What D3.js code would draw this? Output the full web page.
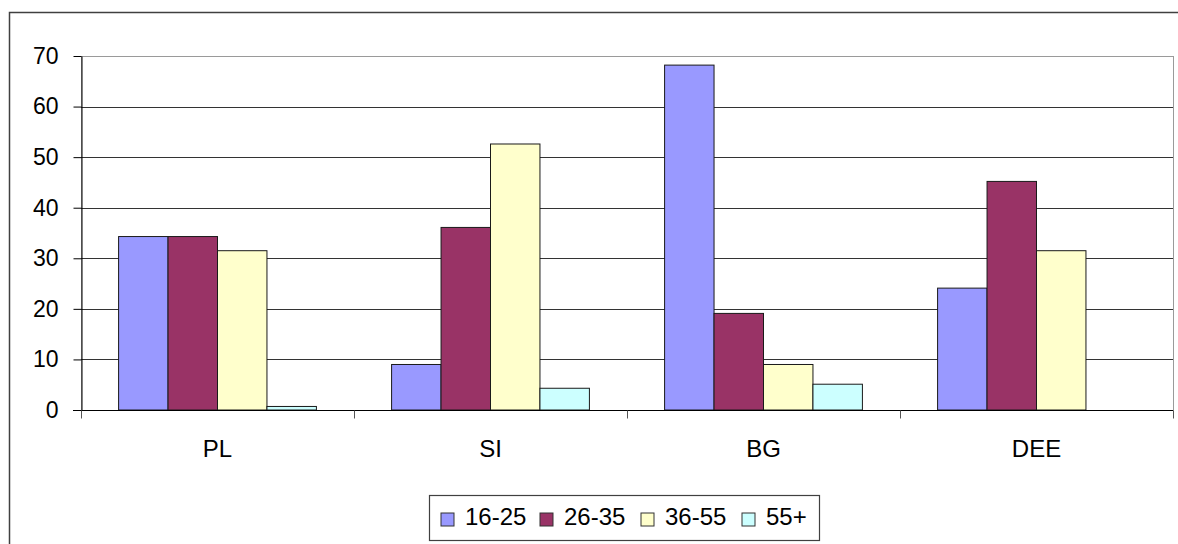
<!DOCTYPE html>
<html>
<head>
<meta charset="utf-8">
<script src="https://cdn.jsdelivr.net/npm/d3@7/dist/d3.min.js"></script>
<style>
  html, body { margin: 0; padding: 0; background: #fff; }
  svg text { font-family: Arial, "Liberation Sans", sans-serif; fill: #000; }
</style>
</head>
<body>
<div id="wrapper"></div>
<script>
// data
const categories = ["PL", "SI", "BG", "DEE"]
const series = ["16-25", "26-35", "36-55", "55+"]
const values1625 = [34.3, 9.0, 68.2, 24.1]
const values2635 = [34.3, 36.1, 19.1, 45.2]
const values3655 = [31.5, 52.6, 9.0, 31.5]
const values55 = [0.7, 4.3, 5.1, 0]
const yTicks = [0, 10, 20, 30, 40, 50, 60, 70]
const colors = ["#9999ff", "#993366", "#ffffcc", "#ccffff"]

const seriesValues = [values1625, values2635, values3655, values55]
const rows = []
categories.forEach((c, ci) => {
  series.forEach((s, si) => rows.push({ cat: c, ser: s, value: seriesValues[si][ci] }))
})

// dimensions
const width = 1178, height = 544
const plot = { left: 81, right: 1173, top: 56, bottom: 410 }

const svg = d3.select("#wrapper").append("svg")
    .attr("width", width)
    .attr("height", height)

// outer chart border (cropped on right and bottom)
svg.append("rect")
    .attr("x", 9.5).attr("y", 12.5)
    .attr("width", width + 20).attr("height", height + 20)
    .attr("fill", "#fff")
    .attr("stroke", "#404040")
    .attr("stroke-width", 1.5)

// scales
const x = d3.scaleBand()
    .domain(categories)
    .range([plot.left, plot.right])
    .padding(0)

const xSub = d3.scaleBand()
    .domain(series)
    .range([0, x.bandwidth()])
    .paddingInner(0)
    .paddingOuter(0.76)

const y = d3.scaleLinear()
    .domain([0, 70])
    .range([plot.bottom, plot.top])

const color = d3.scaleOrdinal().domain(series).range(colors)

// plot area border
svg.append("rect")
    .attr("x", plot.left + 0.5).attr("y", y(70) + 0.5)
    .attr("width", plot.right - plot.left).attr("height", y(0) - y(70))
    .attr("fill", "none")
    .attr("stroke", "#9a9a9a")

// gridlines
svg.append("g")
  .selectAll("line")
  .data(yTicks.filter(d => d > 0 && d < 70))
  .join("line")
    .attr("x1", plot.left).attr("x2", plot.right)
    .attr("y1", d => Math.round(y(d)) + 0.5)
    .attr("y2", d => Math.round(y(d)) + 0.5)
    .attr("stroke", "#333")
    .attr("stroke-width", 1)

// bars
svg.append("g")
  .selectAll("rect")
  .data(rows.filter(d => d.value > 0))
  .join("rect")
    .attr("x", d => x(d.cat) + xSub(d.ser))
    .attr("y", d => y(d.value))
    .attr("width", xSub.bandwidth())
    .attr("height", d => y(0) - y(d.value))
    .attr("fill", d => color(d.ser))
    .attr("stroke", "#1a1a1a")
    .attr("stroke-width", 1)

// y axis
const yAxis = svg.append("g")
    .attr("transform", `translate(${plot.left + 0.5},0)`)
    .call(d3.axisLeft(y).tickValues(yTicks).tickSize(8).tickPadding(15).tickSizeOuter(0))
yAxis.select(".domain").attr("stroke", "#000")
yAxis.selectAll(".tick line").attr("stroke", "#000")
yAxis.selectAll("text")
    .attr("font-size", 23)
    .attr("font-family", "Arial, 'Liberation Sans', sans-serif")

// x axis
const xAxis = svg.append("g")
    .attr("transform", `translate(0,${plot.bottom + 0.5})`)
xAxis.append("line")
    .attr("x1", plot.left - 8).attr("x2", plot.right)
    .attr("stroke", "#000")
xAxis.selectAll(".sep")
  .data(categories.concat(["end"]))
  .join("line")
    .attr("class", "sep")
    .attr("x1", (d, i) => Math.round(plot.left + i * x.step()) + 0.5)
    .attr("x2", (d, i) => Math.round(plot.left + i * x.step()) + 0.5)
    .attr("y1", 0).attr("y2", 8)
    .attr("stroke", "#555")
xAxis.selectAll(".cat")
  .data(categories)
  .join("text")
    .attr("class", "cat")
    .attr("x", d => x(d) + x.bandwidth() / 2)
    .attr("y", 46)
    .attr("text-anchor", "middle")
    .attr("font-size", 24)
    .text(d => d)

// legend
const legend = svg.append("g")
legend.append("rect")
    .attr("x", 429.5).attr("y", 495.5)
    .attr("width", 390).attr("height", 45)
    .attr("fill", "#fff")
    .attr("stroke", "#404040")
    .attr("stroke-width", 1.2)
const legendX = [441, 540, 641, 742]
const items = legend.selectAll(".item")
  .data(series)
  .join("g")
    .attr("class", "item")
    .attr("transform", (d, i) => `translate(${legendX[i]},513)`)
items.append("rect")
    .attr("width", 13).attr("height", 13)
    .attr("fill", d => color(d))
    .attr("stroke", "#333")
items.append("text")
    .attr("x", 24).attr("y", 12)
    .attr("font-size", 24)
    .text(d => d)
</script>
</body>
</html>
